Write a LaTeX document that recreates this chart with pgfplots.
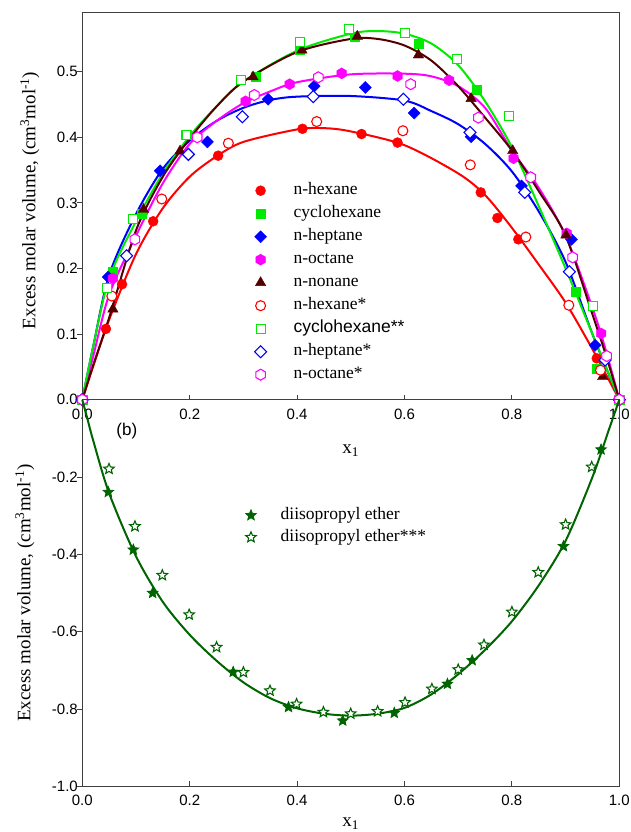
\documentclass[border=0pt]{standalone}
\usepackage{pgfplots}
\pgfplotsset{compat=1.18}
\usepackage{fontspec}
\setmainfont{Liberation Serif}
\setsansfont{Liberation Sans}
\usetikzlibrary{plotmarks}

\definecolor{cred}{RGB}{255,0,0}
\definecolor{cgreen}{RGB}{0,235,0}
\definecolor{cblue}{RGB}{0,0,255}
\definecolor{cmag}{RGB}{255,0,255}
\definecolor{cbrown}{RGB}{85,0,0}
\definecolor{cdkgreen}{RGB}{0,100,0}
\definecolor{axgray}{RGB}{64,64,64}

% hexagon, vertex up
\pgfdeclareplotmark{hexa}{%
  \pgfpathmoveto{\pgfpointpolar{90}{\pgfplotmarksize}}%
  \pgfpathlineto{\pgfpointpolar{150}{\pgfplotmarksize}}%
  \pgfpathlineto{\pgfpointpolar{210}{\pgfplotmarksize}}%
  \pgfpathlineto{\pgfpointpolar{270}{\pgfplotmarksize}}%
  \pgfpathlineto{\pgfpointpolar{330}{\pgfplotmarksize}}%
  \pgfpathlineto{\pgfpointpolar{30}{\pgfplotmarksize}}%
  \pgfpathclose
  \pgfusepathqfillstroke}
% diamond with equal diagonals
\pgfdeclareplotmark{rdiam}{%
  \pgfpathmoveto{\pgfpointpolar{90}{\pgfplotmarksize}}%
  \pgfpathlineto{\pgfpointpolar{180}{\pgfplotmarksize}}%
  \pgfpathlineto{\pgfpointpolar{270}{\pgfplotmarksize}}%
  \pgfpathlineto{\pgfpointpolar{0}{\pgfplotmarksize}}%
  \pgfpathclose
  \pgfusepathqfillstroke}
% five pointed star outline
\pgfdeclareplotmark{fstar}{%
  \pgfpathmoveto{\pgfpointpolar{90}{\pgfplotmarksize}}%
  \pgfpathlineto{\pgfpointpolar{126}{0.45\pgfplotmarksize}}%
  \pgfpathlineto{\pgfpointpolar{162}{\pgfplotmarksize}}%
  \pgfpathlineto{\pgfpointpolar{198}{0.45\pgfplotmarksize}}%
  \pgfpathlineto{\pgfpointpolar{234}{\pgfplotmarksize}}%
  \pgfpathlineto{\pgfpointpolar{270}{0.45\pgfplotmarksize}}%
  \pgfpathlineto{\pgfpointpolar{306}{\pgfplotmarksize}}%
  \pgfpathlineto{\pgfpointpolar{342}{0.45\pgfplotmarksize}}%
  \pgfpathlineto{\pgfpointpolar{18}{\pgfplotmarksize}}%
  \pgfpathlineto{\pgfpointpolar{54}{0.45\pgfplotmarksize}}%
  \pgfpathclose
  \pgfusepathqfillstroke}

\pgfplotsset{
  om/.style={only marks},
  fit/.style={line width=2pt, smooth, forget plot},
  panel/.style={
    width=537pt, scale only axis, clip=false,
    xmin=0, xmax=1, xtick={0,0.2,...,1},
    xtick pos=left, ytick pos=left,
    tick align=inside, major tick length=5pt,
    tick style={axgray, line width=1pt},
    y tick style={xshift=-5pt},
    axis line style={axgray, line width=1.2pt},
    tick label style={font=\fontsize{15}{18}\sffamily},
    /pgf/number format/fixed, /pgf/number format/fixed zerofill,
    /pgf/number format/precision=1, /pgf/number format/assume math mode=true,
    yticklabel style={xshift=-1pt},
    label style={font=\fontsize{19}{22}\selectfont},
    ylabel={Excess molar volume, (cm\textsuperscript{3}mol\textsuperscript{-1})},
    xlabel={x\textsubscript{1}},
    legend cell align=left,
  },
}

\begin{document}
\begin{tikzpicture}
\begin{axis}[panel, name=top, at={(0,0)}, anchor=south west,
  height=387pt, ymin=0, ymax=0.59, ytick={0,0.1,...,0.5},
  xticklabel style={yshift=-6pt},
  xlabel style={at={(axis description cs:0.5,0)}, anchor=north, yshift=-42pt},
  ylabel style={at={(axis description cs:-0.1222,0.515)}, anchor=north},
  legend style={at={(0.3205,0.569)}, anchor=north west, draw=none, fill=none,
    inner sep=0pt, row sep=1pt, font=\fontsize{17.5}{20}\selectfont,
    nodes={text height=12pt, text depth=4pt, inner sep=3pt},
    /tikz/every odd column/.append style={column sep=24pt}},
]
% fitted curves
\addplot[cred, fit] coordinates {(0,0) (0.02,0.05) (0.05,0.122) (0.1,0.222) (0.15,0.292) (0.2,0.340) (0.25,0.371) (0.3,0.393) (0.4,0.412) (0.45,0.414) (0.5,0.409) (0.6,0.388) (0.7,0.345) (0.75,0.312) (0.8,0.262) (0.85,0.206) (0.9,0.148) (0.95,0.077) (0.98,0.031) (1,0)};
\addplot[cblue, fit] coordinates {(0,0) (0.02,0.08) (0.05,0.19) (0.1,0.283) (0.15,0.352) (0.2,0.395) (0.25,0.425) (0.3,0.445) (0.35,0.457) (0.4,0.462) (0.5,0.463) (0.6,0.456) (0.65,0.44) (0.7,0.42) (0.75,0.39) (0.8,0.348) (0.85,0.287) (0.9,0.21) (0.95,0.1) (1,0)};
\addplot[cmag, fit] coordinates {(0,0) (0.02,0.065) (0.05,0.16) (0.1,0.25) (0.15,0.33) (0.2,0.39) (0.25,0.425) (0.3,0.452) (0.35,0.47) (0.4,0.484) (0.5,0.496) (0.6,0.497) (0.65,0.493) (0.7,0.478) (0.75,0.445) (0.8,0.38) (0.85,0.323) (0.9,0.25) (0.95,0.14) (0.975,0.075) (1,0)};
\addplot[cgreen, fit] coordinates {(0,0) (0.02,0.08) (0.05,0.185) (0.1,0.272) (0.15,0.345) (0.2,0.402) (0.25,0.447) (0.3,0.485) (0.4,0.532) (0.5,0.558) (0.55,0.562) (0.6,0.558) (0.65,0.543) (0.7,0.51) (0.75,0.455) (0.8,0.385) (0.85,0.295) (0.9,0.2) (0.95,0.1) (1,0)};
\addplot[cbrown, fit] coordinates {(0,0) (0.02,0.052) (0.05,0.125) (0.1,0.258) (0.15,0.34) (0.2,0.398) (0.25,0.447) (0.3,0.485) (0.4,0.530) (0.5,0.550) (0.55,0.550) (0.6,0.540) (0.65,0.517) (0.7,0.478) (0.75,0.43) (0.8,0.38) (0.85,0.318) (0.9,0.25) (0.95,0.13) (0.975,0.068) (1,0)};
% measured
\addplot[om, mark=*, mark size=5pt, cred] coordinates {(0,0) (0.044,0.108) (0.074,0.176) (0.132,0.272) (0.253,0.372) (0.41,0.413) (0.52,0.405) (0.587,0.392) (0.742,0.316) (0.773,0.277) (0.812,0.2445) (0.958,0.063) (1,0)};
\addlegendentry{n-hexane}
\addplot[om, mark=square*, mark size=4.5pt, cgreen] coordinates {(0,0) (0.057,0.195) (0.11,0.283) (0.322,0.492) (0.405,0.534) (0.508,0.553) (0.626,0.542) (0.734,0.472) (0.918,0.165) (0.957,0.048) (1,0)};
\addlegendentry{cyclohexane}
\addplot[om, mark=rdiam, mark size=6pt, cblue] coordinates {(0,0) (0.048,0.187) (0.145,0.349) (0.233,0.393) (0.346,0.458) (0.432,0.478) (0.527,0.476) (0.618,0.437) (0.724,0.401) (0.818,0.326) (0.911,0.2445) (0.955,0.083) (1,0)};
\addlegendentry{n-heptane}
\addplot[om, mark=hexa, mark size=5.5pt, cmag] coordinates {(0,0) (0.057,0.185) (0.304,0.455) (0.386,0.481) (0.483,0.4975) (0.587,0.4935) (0.683,0.487) (0.803,0.368) (0.902,0.2537) (0.966,0.101) (1,0)};
\addlegendentry{n-octane}
\addplot[om, mark=triangle*, mark size=6pt, cbrown] coordinates {(0,0) (0.057,0.138) (0.114,0.290) (0.182,0.379) (0.318,0.492) (0.409,0.533) (0.512,0.554) (0.626,0.5255) (0.724,0.459) (0.8015,0.3796) (0.9007,0.251) (0.969,0.035) (1,0)};
\addlegendentry{n-nonane}
% literature
\addplot[om, mark=*, mark size=5pt, cred, mark options={fill=white, line width=1.1pt}] coordinates {(0,0) (0.055,0.158) (0.148,0.306) (0.272,0.391) (0.4365,0.424) (0.597,0.410) (0.7225,0.358) (0.826,0.248) (0.906,0.144) (0.965,0.045) (1,0)};
\addlegendentry{n-hexane*}
\addplot[om, mark=square*, mark size=4.5pt, cgreen, mark options={fill=white, line width=1.1pt}] coordinates {(0,0) (0.0466,0.170) (0.095,0.275) (0.194,0.4035) (0.295,0.487) (0.405,0.546) (0.497,0.565) (0.601,0.559) (0.697,0.519) (0.795,0.432) (0.9516,0.143) (1,0)};
\addlegendentry{\sffamily cyclohexane**}
\addplot[om, mark=rdiam, mark size=6pt, cblue, mark options={fill=white, line width=1.1pt}] coordinates {(0,0) (0.0826,0.2195) (0.1975,0.374) (0.298,0.4314) (0.430,0.462) (0.598,0.458) (0.722,0.4076) (0.824,0.316) (0.907,0.195) (0.9734,0.0605) (1,0)};
\addlegendentry{n-heptane*}
\addplot[om, mark=hexa, mark size=5.5pt, cmag, mark options={fill=white, line width=1.1pt}] coordinates {(0,0) (0.098,0.2445) (0.214,0.400) (0.3203,0.4645) (0.4395,0.4915) (0.6115,0.481) (0.7375,0.43) (0.835,0.339) (0.913,0.217) (0.9765,0.0666) (1,0)};
\addlegendentry{n-octane*}
\end{axis}

\begin{axis}[panel, name=bot, at={(0,0)}, anchor=north west,
  height=386.7pt, ymin=-1, ymax=0, ytick={-1,-0.8,...,-0.2},
  xticklabel style={yshift=-5pt},
  xlabel style={at={(axis description cs:0.5,0)}, anchor=north, yshift=-28pt},
  ylabel style={at={(axis description cs:-0.1315,0.5)}, anchor=north},
  legend style={at={(0.304,0.730)}, anchor=north west, draw=none, fill=none,
    inner sep=0pt, row sep=0pt, font=\fontsize{17.5}{20}\selectfont,
    nodes={text height=12pt, text depth=4pt, inner sep=3pt},
    /tikz/every odd column/.append style={column sep=21.5pt}},
]
\addplot[cdkgreen, fit] coordinates {(0,0) (0.01,-0.052) (0.02,-0.104) (0.05,-0.242) (0.1,-0.405) (0.15,-0.523) (0.2,-0.608) (0.25,-0.675) (0.3,-0.731) (0.35,-0.772) (0.4,-0.798) (0.45,-0.812) (0.5,-0.817) (0.55,-0.812) (0.6,-0.797) (0.65,-0.762) (0.7,-0.71) (0.75,-0.647) (0.8,-0.573) (0.85,-0.48) (0.9,-0.365) (0.95,-0.2) (0.98,-0.08) (1,0)};
\addplot[om, mark=fstar, mark size=5.5pt, cdkgreen, mark options={fill=cdkgreen, line width=0.8pt}] coordinates {(0.0485,-0.239) (0.095,-0.388) (0.131,-0.50) (0.281,-0.704) (0.384,-0.795) (0.485,-0.830) (0.581,-0.810) (0.68,-0.735) (0.726,-0.674) (0.896,-0.379) (0.966,-0.129)};
\addlegendentry{diisopropyl ether}
\addplot[om, mark=fstar, mark size=5.5pt, cdkgreen, mark options={fill=white, line width=1.1pt}] coordinates {(0.0497,-0.179) (0.098,-0.3276) (0.149,-0.454) (0.199,-0.556) (0.25,-0.640) (0.30,-0.705) (0.3495,-0.7525) (0.399,-0.787) (0.449,-0.808) (0.4998,-0.812) (0.55,-0.806) (0.601,-0.783) (0.651,-0.748) (0.70,-0.698) (0.748,-0.634) (0.80,-0.549) (0.849,-0.4465) (0.90,-0.323) (0.9486,-0.174)};
\addlegendentry{diisopropyl ether***}
\node[font=\fontsize{17}{20}\sffamily] at (axis cs:0.083,-0.08) {(b)};
\end{axis}
\pgfresetboundingbox
\path[use as bounding box] (-82.3pt,-432.3pt) rectangle (548.7pt,399.7pt);
\end{tikzpicture}
\end{document}
